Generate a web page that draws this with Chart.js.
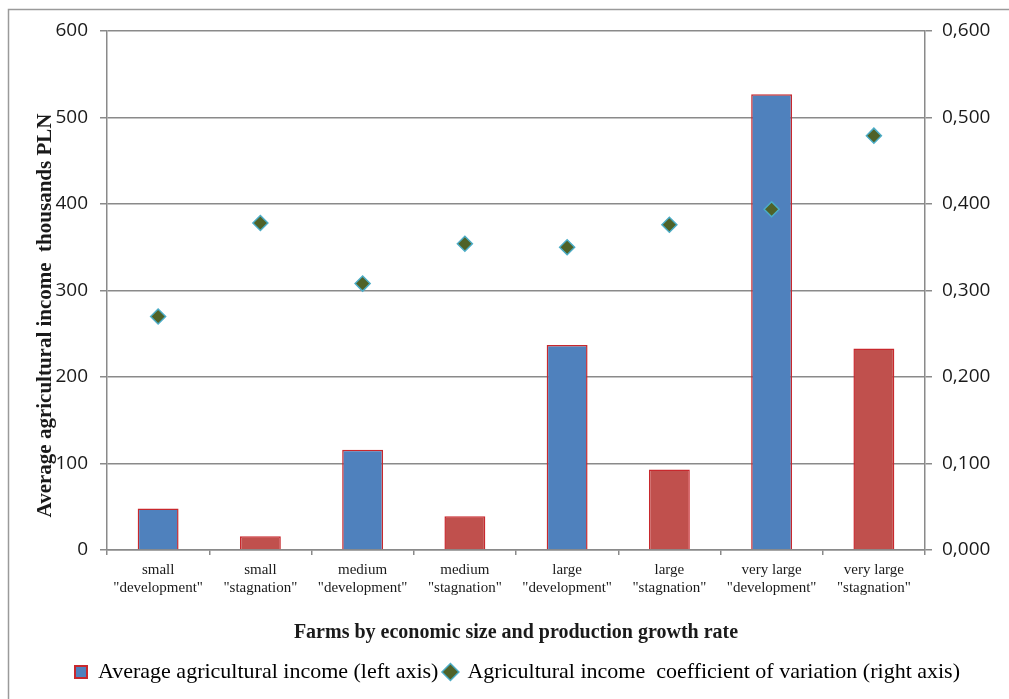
<!DOCTYPE html>
<html>
<head>
<meta charset="utf-8">
<script src="https://cdn.jsdelivr.net/npm/chart.js@4/dist/chart.umd.min.js"></script>
<style>
  html, body { margin: 0; padding: 0; background: #fff; }
  #wrap { width: 1009px; height: 699px; position: relative; }
</style>
</head>
<body>
<div id="wrap"><canvas id="c" width="1009" height="699"></canvas></div>
<script>
// Farm groups (economic size x production growth rate)
const categories = [
  ['small', '"development"'],
  ['small', '"stagnation"'],
  ['medium', '"development"'],
  ['medium', '"stagnation"'],
  ['large', '"development"'],
  ['large', '"stagnation"'],
  ['very large', '"development"'],
  ['very large', '"stagnation"']
];
// Average agricultural income, thousands PLN (left axis)
const avgIncome = [48, 16, 116, 39, 237, 93, 527, 233];
// Coefficient of variation of agricultural income (right axis)
const coefVariation = [0.270, 0.378, 0.308, 0.354, 0.350, 0.376, 0.394, 0.479];
// Growth type of each group, used for bar colouring
const growthType = ['development', 'stagnation', 'development', 'stagnation',
                    'development', 'stagnation', 'development', 'stagnation'];

const BLUE = '#4F81BD';
const RED = '#C0504D';
const BAR_EDGE = '#C8282D';
const GRID = '#8a8a8a';
const SERIF = '"Liberation Serif", "Times New Roman", serif';

const barColors = growthType.map(t => t === 'development' ? BLUE : RED);

// Rotated left-axis title drawn beside the tick labels
const yTitlePlugin = {
  id: 'yTitle',
  afterDraw(chart) {
    const { ctx, chartArea } = chart;
    ctx.save();
    ctx.translate(chartArea.left - 61, (chartArea.top + chartArea.bottom) / 2 + 25);
    ctx.rotate(-Math.PI / 2);
    ctx.font = 'bold 21px ' + SERIF;
    ctx.fillStyle = '#1a1a1a';
    ctx.textAlign = 'center';
    ctx.textBaseline = 'middle';
    ctx.fillText('Average agricultural income  thousands PLN', 0, 0);
    ctx.restore();
  }
};

// Thin frame around the whole figure
const framePlugin = {
  id: 'frame',
  beforeDraw(chart) {
    const { ctx } = chart;
    ctx.save();
    ctx.strokeStyle = '#9a9a9a';
    ctx.lineWidth = 1.5;
    ctx.strokeRect(8.5, 9.5, 1020, 720);
    ctx.restore();
  }
};

new Chart(document.getElementById('c'), {
  type: 'bar',
  data: {
    labels: categories,
    datasets: [
      {
        type: 'line',
        label: 'Agricultural income  coefficient of variation (right axis)',
        data: coefVariation,
        yAxisID: 'y2',
        showLine: false,
        pointStyle: 'rectRot',
        pointRadius: 7.5,
        pointHoverRadius: 7.5,
        backgroundColor: '#4F6228',
        borderColor: '#4BACC6',
        pointBorderWidth: 1.5,
        order: 0
      },
      {
        type: 'bar',
        label: 'Average agricultural income (left axis)',
        data: avgIncome,
        yAxisID: 'y',
        backgroundColor: barColors,
        borderColor: BAR_EDGE,
        borderWidth: 1.5,
        grouped: false,
        barPercentage: 0.4,
        categoryPercentage: 1.0,
        order: 1
      }
    ]
  },
  options: {
    responsive: false,
    animation: false,
    layout: { padding: { top: 31, right: 0, bottom: 6, left: 26 } },
    plugins: {
      tooltip: { enabled: false },
      legend: {
        position: 'bottom',
        labels: {
          font: { family: SERIF, size: 22 },
          color: '#1a1a1a',
          padding: 6,
          boxWidth: 12,
          boxHeight: 12,
          usePointStyle: true,
          generateLabels(chart) {
            const ds = chart.data.datasets;
            return [
              {
                text: ds[1].label, datasetIndex: 1, pointStyle: 'rect',
                fillStyle: BLUE, strokeStyle: BAR_EDGE, lineWidth: 2, hidden: false
              },
              {
                text: ds[0].label, datasetIndex: 0, pointStyle: 'rectRot',
                fillStyle: '#4F6228', strokeStyle: '#4BACC6', lineWidth: 1.5, hidden: false
              }
            ];
          }
        }
      }
    },
    scales: {
      x: {
        type: 'category',
        offset: true,
        grid: { display: true, offset: true, drawOnChartArea: false, color: GRID, lineWidth: 1.5, tickLength: 5 },
        border: { color: GRID, width: 1.5 },
        ticks: {
          font: { family: SERIF, size: 15 },
          color: '#1a1a1a',
          padding: 6,
          maxRotation: 0,
          autoSkip: false
        },
        title: {
          display: true,
          text: 'Farms by economic size and production growth rate',
          font: { family: SERIF, size: 20, weight: 'bold' },
          color: '#1a1a1a',
          padding: { top: 18, bottom: 10 }
        },
        afterFit(scale) { scale.height = 105; }
      },
      y: {
        position: 'left',
        min: 0,
        max: 600,
        ticks: {
          stepSize: 100,
          font: { family: '"Open Sans", sans-serif', size: 19 },
          color: '#1a1a1a',
          padding: 12
        },
        grid: { color: GRID, lineWidth: 1.5, tickLength: 7 },
        border: { color: GRID, width: 1.5 },
        afterFit(scale) { scale.width = 81; }
      },
      y2: {
        position: 'right',
        min: 0,
        max: 0.6,
        ticks: {
          stepSize: 0.1,
          font: { family: '"Open Sans", sans-serif', size: 19 },
          color: '#1a1a1a',
          padding: 10,
          callback: v => v.toFixed(3).replace('.', ',')
        },
        grid: { drawOnChartArea: false, color: GRID, lineWidth: 1.5, tickLength: 7 },
        border: { color: GRID, width: 1.5 },
        afterFit(scale) { scale.width = 84; }
      }
    }
  },
  plugins: [yTitlePlugin, framePlugin]
});
</script>
</body>
</html>
